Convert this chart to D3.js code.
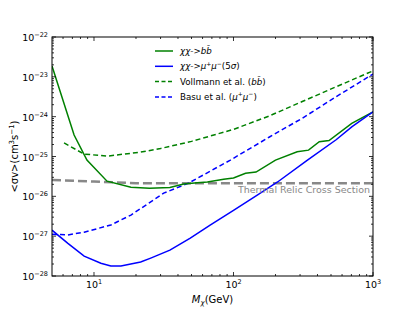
<!DOCTYPE html>
<html>
<head>
<meta charset="utf-8">
<script src="https://cdn.jsdelivr.net/npm/d3@7"></script>
<style>
  body { margin: 0; background: white; }
  text { font-family: "DejaVu Sans", sans-serif; }
</style>
</head>
<body>
<div id="chart"></div>
<script>
// data (mass in GeV, log10 of <sigma v>)
const bbMass = [5, 7.2, 8.9, 12.4, 18.4, 25, 35, 44, 55, 65, 85, 100, 122, 145, 200, 286, 345, 412, 484, 704, 1000];
const bbLog = [-22.73, -24.46, -25.09, -25.62, -25.77, -25.8, -25.78, -25.69, -25.66, -25.64, -25.57, -25.54, -25.42, -25.39, -25.09, -24.88, -24.84, -24.63, -24.6, -24.17, -23.88];

const mumuMass = [5, 6.5, 8.5, 11.2, 13.2, 15.6, 21.6, 25.5, 35, 49, 68, 100, 148, 207, 339, 544, 708, 1000];
const mumuLog = [-26.85, -27.18, -27.5, -27.68, -27.75, -27.75, -27.65, -27.55, -27.35, -27.05, -26.72, -26.35, -25.97, -25.64, -25.09, -24.58, -24.25, -23.88];

const vollMass = [6.1, 8.5, 12.5, 21.6, 30, 50, 100, 181, 311, 544, 1000];
const vollLog = [-24.66, -24.94, -24.99, -24.89, -24.8, -24.62, -24.32, -23.98, -23.62, -23.25, -22.85];

const basuMass = [5, 6.5, 8.5, 13.2, 18.4, 31.6, 47.5, 95, 181, 311, 544, 1000];
const basuLog = [-26.95, -26.97, -26.9, -26.72, -26.47, -25.92, -25.67, -25.09, -24.51, -24.04, -23.5, -22.93];

const relicMass = [5, 10, 20, 1000];
const relicLog = [-25.59, -25.63, -25.67, -25.67];

const xTicks = [1, 2, 3];
const yTicks = [-22, -23, -24, -25, -26, -27, -28];

// set the dimensions and margins of the graph
const W = 415, H = 311;
const margin = {top: 37, right: 42, bottom: 35, left: 52},
  width = W - margin.left - margin.right,
  height = H - margin.top - margin.bottom;

const svg = d3.select("#chart")
  .append("svg")
  .attr("width", W)
  .attr("height", H);

const g = svg.append("g")
  .attr("transform", `translate(${margin.left},${margin.top})`);

const x = d3.scaleLog().domain([5, 1000]).range([0, width]);
const y = d3.scaleLinear().domain([-28, -22]).range([height, 0]);

svg.append("clipPath").attr("id", "clip")
  .append("rect").attr("width", width).attr("height", height);

const plot = g.append("g").attr("clip-path", "url(#clip)");

const line = d3.line().x(d => x(d[0])).y(d => y(d[1]));

function addLine(mass, vals, color, dash, lw) {
  plot.append("path")
    .datum(d3.zip(mass, vals))
    .attr("d", line)
    .attr("fill", "none")
    .attr("stroke", color)
    .attr("stroke-width", lw)
    .attr("stroke-dasharray", dash);
}

addLine(relicMass, relicLog, "#888888", "9,4", 2.5);
addLine(vollMass, vollLog, "#008000", "5,3", 1.5);
addLine(basuMass, basuLog, "#0000ff", "5,3", 1.5);
addLine(bbMass, bbLog, "#008000", null, 1.5);
addLine(mumuMass, mumuLog, "#0000ff", null, 1.5);

// thermal relic label
g.append("text")
  .attr("x", width - 3)
  .attr("y", y(-25.67) + 10)
  .attr("text-anchor", "end")
  .style("font-size", "9.5px")
  .style("fill", "#888888")
  .text("Thermal Relic Cross Section");

// ticks (inward, all four sides)
const ticks = g.append("g").attr("stroke", "black").attr("stroke-width", 0.8);
const xMajor = xTicks.map(e => Math.pow(10, e));
const xMinor = [];
[1, 10, 100].forEach(base => {
  for (let k = 2; k <= 9; k++) {
    const v = base * k;
    if (v > 5 && v < 1000) xMinor.push(v);
  }
});
xMinor.forEach(v => {
  ticks.append("line").attr("x1", x(v)).attr("x2", x(v)).attr("y1", height).attr("y2", height - 2);
  ticks.append("line").attr("x1", x(v)).attr("x2", x(v)).attr("y1", 0).attr("y2", 2);
});
xMajor.forEach(v => {
  ticks.append("line").attr("x1", x(v)).attr("x2", x(v)).attr("y1", height).attr("y2", height - 4);
  ticks.append("line").attr("x1", x(v)).attr("x2", x(v)).attr("y1", 0).attr("y2", 4);
});
for (let e = -28; e < -22; e++) {
  for (let k = 2; k <= 9; k++) {
    const v = e + Math.log10(k);
    ticks.append("line").attr("x1", 0).attr("x2", 2).attr("y1", y(v)).attr("y2", y(v));
    ticks.append("line").attr("x1", width).attr("x2", width - 2).attr("y1", y(v)).attr("y2", y(v));
  }
}
yTicks.forEach(v => {
  ticks.append("line").attr("x1", 0).attr("x2", 4).attr("y1", y(v)).attr("y2", y(v));
  ticks.append("line").attr("x1", width).attr("x2", width - 4).attr("y1", y(v)).attr("y2", y(v));
});

// frame
g.append("rect")
  .attr("width", width).attr("height", height)
  .attr("fill", "none").attr("stroke", "black").attr("stroke-width", 1);

// tick labels
function powerLabel(sel, exp) {
  sel.append("tspan").text("10");
  sel.append("tspan").attr("dy", -4).style("font-size", "6.5px").text(exp < 0 ? "\u2212" + (-exp) : exp);
}
yTicks.forEach(v => {
  const t = g.append("text")
    .attr("x", -4).attr("y", y(v) + 4)
    .attr("text-anchor", "end")
    .style("font-size", "9.5px");
  powerLabel(t, v);
});
xTicks.forEach(v => {
  const t = g.append("text")
    .attr("x", x(Math.pow(10, v))).attr("y", height + 12)
    .attr("text-anchor", "middle")
    .style("font-size", "9.5px");
  powerLabel(t, v);
});

// axis titles
const xt = g.append("text")
  .attr("x", width / 2).attr("y", height + 27)
  .attr("text-anchor", "middle")
  .style("font-size", "10px");
xt.append("tspan").style("font-style", "italic").text("M");
xt.append("tspan").attr("dy", 2).style("font-size", "7px").style("font-style", "italic").text("\u03c7");
xt.append("tspan").attr("dy", -2).text("(GeV)");

const yt = svg.append("text")
  .attr("transform", `translate(18,${margin.top + height / 2}) rotate(-90)`)
  .attr("text-anchor", "middle")
  .style("font-size", "10px");
yt.append("tspan").text("<\u03c3v>(cm");
yt.append("tspan").attr("dy", -4).style("font-size", "7px").text("3");
yt.append("tspan").attr("dy", 4).text("s");
yt.append("tspan").attr("dy", -4).style("font-size", "7px").text("\u22121");
yt.append("tspan").attr("dy", 4).text(")");

// legend
const legendItems = [
  {color: "#008000", dash: null, parts: [["\u03c7\u03c7->", true], ["b", true], ["b\u0304", true]]},
  {color: "#0000ff", dash: null, parts: [["\u03c7\u03c7->\u03bc", true], ["+", false, "sup"], ["\u03bc", true], ["\u2212", false, "sup"], ["(5", false], ["\u03c3", true], [")", false]]},
  {color: "#008000", dash: "4,2.5", parts: [["Vollmann et al. (", false], ["b", true], ["b\u0304", true], [")", false]]},
  {color: "#0000ff", dash: "4,2.5", parts: [["Basu et al. (", false], ["\u03bc", true], ["+", false, "sup"], ["\u03bc", true], ["\u2212", false, "sup"], [")", false]]}
];
const legend = svg.append("g").attr("transform", "translate(155,51)");
legendItems.forEach((d, i) => {
  const row = legend.append("g").attr("transform", `translate(0,${i * 15.3})`);
  row.append("line")
    .attr("x1", 0).attr("x2", 18).attr("y1", 0).attr("y2", 0)
    .attr("stroke", d.color).attr("stroke-width", 1.5)
    .attr("stroke-dasharray", d.dash);
  const t = row.append("text").attr("x", 25).attr("y", 3).style("font-size", "8.7px");
  let up = false;
  d.parts.forEach(p => {
    const ts = t.append("tspan").text(p[0]);
    if (p[1]) ts.style("font-style", "italic");
    if (p[2] === "sup") {
      ts.attr("dy", -3.5).style("font-size", "6px");
      up = true;
    } else if (up) {
      ts.attr("dy", 3.5);
      up = false;
    }
  });
});
</script>
</body>
</html>
